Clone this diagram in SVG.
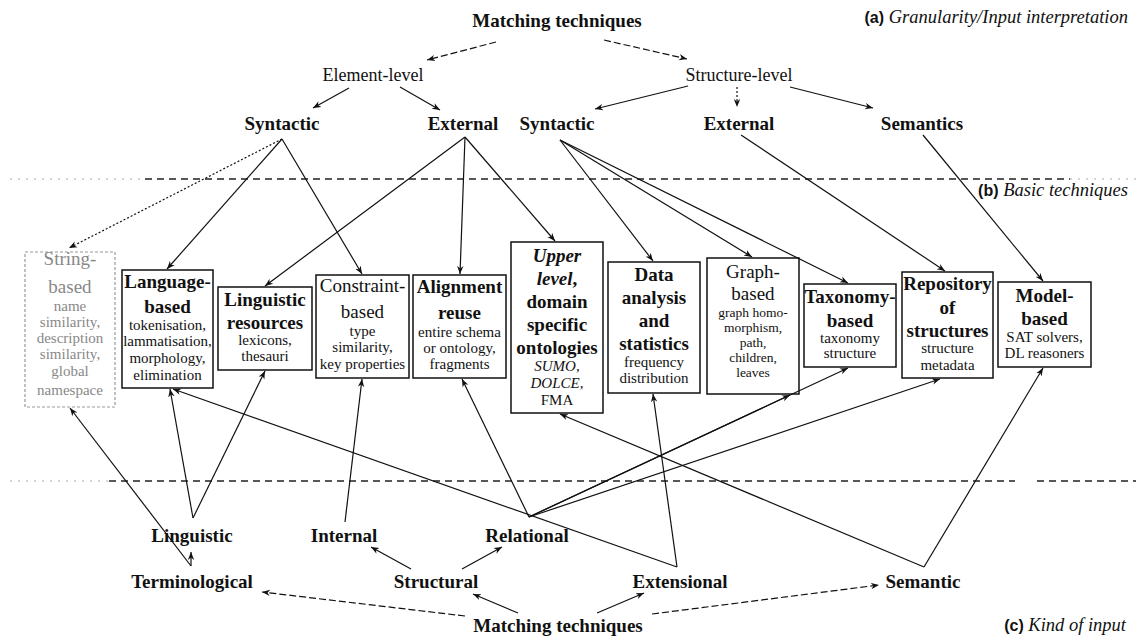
<svg xmlns="http://www.w3.org/2000/svg" width="1138" height="639" viewBox="0 0 1138 639">
  <defs>
    <marker id="ah" viewBox="0 0 10 10" refX="10" refY="5" markerWidth="8" markerHeight="8" markerUnits="userSpaceOnUse" orient="auto">
      <path d="M0,1 L10,5 L0,9 L3,5 z" fill="#111"/>
    </marker>
    <style>
      .lbl { font-family: "Liberation Serif", "Times New Roman", serif; font-weight: bold; font-size: 19px; fill: #111; text-anchor: middle; }
      .lvl { font-family: "Liberation Serif", "Times New Roman", serif; font-size: 18px; fill: #111; text-anchor: middle; }
      .cap { font-family: "Liberation Serif", "Times New Roman", serif; font-style: italic; font-size: 18.5px; fill: #111; }
      .tag { font-family: "Liberation Sans", Arial, sans-serif; font-weight: bold; font-style: normal; font-size: 16px; }
      .box { fill: #fff; stroke: #111; stroke-width: 1.5; }
      .faint { fill: #fff; stroke: #999; stroke-width: 1.2; stroke-dasharray: 3 2; }
      .t { font-family: "Liberation Serif", "Times New Roman", serif; font-weight: bold; font-size: 19px; fill: #111; text-anchor: middle; }
      .tn { font-family: "Liberation Serif", "Times New Roman", serif; font-size: 19px; fill: #111; text-anchor: middle; }
      .d { font-family: "Liberation Serif", "Times New Roman", serif; font-size: 15px; fill: #111; text-anchor: middle; }
      .ds { font-family: "Liberation Serif", "Times New Roman", serif; font-size: 13.5px; fill: #111; text-anchor: middle; }
      .g { fill: #888; }
      .ln { stroke: #111; stroke-width: 1.2; fill: none; marker-end: url(#ah); }
      .dash { stroke-dasharray: 7 3; }
      .dot { stroke-dasharray: 2 2; }
      .sep { stroke: #222; stroke-width: 1.6; stroke-dasharray: 7 5; fill: none; }
      .sepf { stroke: #aaa; stroke-width: 1.2; stroke-dasharray: 2 6; fill: none; }
    </style>
  </defs>

  <rect width="1138" height="639" fill="#fff"/>

  <!-- layer separators -->
  <g id="separators">
    <line class="sepf" x1="10" y1="179" x2="145" y2="179"/>
    <line class="sep" x1="145" y1="179" x2="1070" y2="179"/>
    <line class="sepf" x1="1070" y1="179" x2="1136" y2="179"/>
    <line class="sepf" x1="10" y1="481" x2="109" y2="481"/>
    <line class="sep" x1="109" y1="481" x2="1015" y2="481"/>
    <line class="sep" x1="1037" y1="481" x2="1136" y2="481"/>
  </g>

  <!-- layer captions -->
  <g id="captions">
    <text class="cap" x="1128" y="23" text-anchor="end"><tspan class="tag">(a)</tspan> Granularity/Input interpretation</text>
    <text class="cap" x="1128" y="196" text-anchor="end"><tspan class="tag">(b)</tspan> Basic techniques</text>
    <text class="cap" x="1126" y="631" text-anchor="end"><tspan class="tag">(c)</tspan> Kind of input</text>
  </g>

  <!-- upper classification tree -->
  <g id="top-root"><text class="lbl" x="557" y="27">Matching techniques</text></g>
  <g id="element-level"><text class="lvl" x="373" y="81">Element-level</text></g>
  <g id="structure-level"><text class="lvl" x="739" y="81">Structure-level</text></g>
  <g id="el-syntactic"><text class="lbl" x="282" y="130">Syntactic</text></g>
  <g id="el-external"><text class="lbl" x="463" y="130">External</text></g>
  <g id="st-syntactic"><text class="lbl" x="557" y="130">Syntactic</text></g>
  <g id="st-external"><text class="lbl" x="739" y="130">External</text></g>
  <g id="st-semantics"><text class="lbl" x="922" y="130">Semantics</text></g>

  <!-- basic techniques -->
  <g id="string-based">
    <rect class="faint" x="25" y="252" width="90" height="155"/>
    <text class="tn g" x="70" y="265">String-</text>
    <text class="tn g" x="70" y="293">based</text>
    <text class="d g" x="70" y="311">name</text>
    <text class="d g" x="70" y="327">similarity,</text>
    <text class="d g" x="70" y="343">description</text>
    <text class="d g" x="70" y="359">similarity,</text>
    <text class="d g" x="70" y="376">global</text>
    <text class="d g" x="70" y="395">namespace</text>
  </g>
  <g id="language-based">
    <rect class="box" x="122" y="270" width="91" height="118"/>
    <text class="t" x="167.5" y="288">Language-</text>
    <text class="t" x="167.5" y="313">based</text>
    <text class="d" x="167.5" y="330">tokenisation,</text>
    <text class="d" x="167.5" y="346">lammatisation,</text>
    <text class="d" x="167.5" y="363">morphology,</text>
    <text class="d" x="167.5" y="380">elimination</text>
  </g>
  <g id="linguistic-resources">
    <rect class="box" x="218" y="287" width="94" height="83"/>
    <text class="t" x="265" y="306">Linguistic</text>
    <text class="t" x="265" y="329">resources</text>
    <text class="d" x="265" y="345">lexicons,</text>
    <text class="d" x="265" y="361">thesauri</text>
  </g>
  <g id="constraint-based">
    <rect class="box" x="316" y="275" width="93" height="103"/>
    <text class="tn" x="362.5" y="292">Constraint-</text>
    <text class="tn" x="362.5" y="318">based</text>
    <text class="d" x="362.5" y="336">type</text>
    <text class="d" x="362.5" y="352">similarity,</text>
    <text class="d" x="362.5" y="369">key properties</text>
  </g>
  <g id="alignment-reuse">
    <rect class="box" x="413" y="275" width="93" height="103"/>
    <text class="t" x="459.5" y="293">Alignment</text>
    <text class="t" x="459.5" y="319">reuse</text>
    <text class="d" x="459.5" y="337">entire schema</text>
    <text class="d" x="459.5" y="353">or ontology,</text>
    <text class="d" x="459.5" y="369">fragments</text>
  </g>
  <g id="upper-level">
    <rect class="box" x="511" y="242" width="92" height="171"/>
    <text class="t" x="557" y="262" font-style="italic">Upper</text>
    <text class="t" x="557" y="285" font-style="italic">level<tspan font-style="normal">,</tspan></text>
    <text class="t" x="557" y="308">domain</text>
    <text class="t" x="557" y="331">specific</text>
    <text class="t" x="557" y="354">ontologies</text>
    <text class="d" x="557" y="371" font-style="italic">SUMO,</text>
    <text class="d" x="557" y="388" font-style="italic">DOLCE,</text>
    <text class="d" x="557" y="405">FMA</text>
  </g>
  <g id="data-analysis">
    <rect class="box" x="608" y="262" width="92" height="131"/>
    <text class="t" x="654" y="281">Data</text>
    <text class="t" x="654" y="304">analysis</text>
    <text class="t" x="654" y="327">and</text>
    <text class="t" x="654" y="350">statistics</text>
    <text class="d" x="654" y="367">frequency</text>
    <text class="d" x="654" y="383">distribution</text>
  </g>
  <g id="graph-based">
    <rect class="box" x="707" y="258" width="92" height="136"/>
    <text class="tn" x="753" y="278">Graph-</text>
    <text class="tn" x="753" y="300">based</text>
    <text class="ds" x="753" y="317">graph homo-</text>
    <text class="ds" x="753" y="332">morphism,</text>
    <text class="ds" x="753" y="347">path,</text>
    <text class="ds" x="753" y="362">children,</text>
    <text class="ds" x="753" y="377">leaves</text>
  </g>
  <g id="taxonomy-based">
    <rect class="box" x="804" y="284" width="92" height="83"/>
    <text class="t" x="850" y="303">Taxonomy-</text>
    <text class="t" x="850" y="327">based</text>
    <text class="d" x="850" y="343">taxonomy</text>
    <text class="d" x="850" y="358">structure</text>
  </g>
  <g id="repository">
    <rect class="box" x="902" y="272" width="91" height="106"/>
    <text class="t" x="947.5" y="290">Repository</text>
    <text class="t" x="947.5" y="314">of</text>
    <text class="t" x="947.5" y="337">structures</text>
    <text class="d" x="947.5" y="353">structure</text>
    <text class="d" x="947.5" y="370">metadata</text>
  </g>
  <g id="model-based">
    <rect class="box" x="998" y="282" width="93" height="85"/>
    <text class="t" x="1044.5" y="302">Model-</text>
    <text class="t" x="1044.5" y="325">based</text>
    <text class="d" x="1044.5" y="342">SAT solvers,</text>
    <text class="d" x="1044.5" y="358">DL reasoners</text>
  </g>

  <!-- lower classification tree -->
  <g id="linguistic"><text class="lbl" x="192" y="542">Linguistic</text></g>
  <g id="internal"><text class="lbl" x="344" y="542">Internal</text></g>
  <g id="relational"><text class="lbl" x="527" y="542">Relational</text></g>
  <g id="terminological"><text class="lbl" x="192" y="588">Terminological</text></g>
  <g id="structural"><text class="lbl" x="436" y="588">Structural</text></g>
  <g id="extensional"><text class="lbl" x="680" y="588">Extensional</text></g>
  <g id="semantic"><text class="lbl" x="923" y="588">Semantic</text></g>
  <g id="bottom-root"><text class="lbl" x="558" y="632">Matching techniques</text></g>

  <!-- connectors -->
  <g id="connectors">
    <!-- upper tree -->
    <line class="ln dash" x1="496" y1="42" x2="427" y2="60"/>
    <line class="ln dash" x1="604" y1="40" x2="687" y2="59"/>
    <line class="ln" x1="349" y1="88" x2="313" y2="108"/>
    <line class="ln" x1="400" y1="87" x2="440" y2="110"/>
    <line class="ln" x1="688" y1="86" x2="595" y2="109"/>
    <line class="ln dot" x1="737" y1="87" x2="737" y2="107"/>
    <line class="ln" x1="790" y1="87" x2="873" y2="108"/>
    <!-- upper tree to basic techniques -->
    <line class="ln dot" x1="282" y1="139" x2="69" y2="248"/>
    <line class="ln" x1="282" y1="139" x2="167" y2="269"/>
    <line class="ln" x1="282" y1="139" x2="362" y2="274"/>
    <line class="ln" x1="465" y1="137" x2="265" y2="286"/>
    <line class="ln" x1="465" y1="137" x2="460" y2="274"/>
    <line class="ln" x1="465" y1="137" x2="555" y2="241"/>
    <line class="ln" x1="560" y1="140" x2="653" y2="261"/>
    <line class="ln" x1="560" y1="140" x2="752" y2="257"/>
    <line class="ln" x1="560" y1="140" x2="848" y2="283"/>
    <line class="ln" x1="741" y1="135" x2="945" y2="271"/>
    <line class="ln" x1="923" y1="135" x2="1043" y2="281"/>
    <!-- lower tree to basic techniques -->
    <line class="ln" x1="191" y1="566" x2="70" y2="408"/>
    <line class="ln" x1="191" y1="566" x2="191" y2="552"/>
    <line class="ln" x1="193" y1="518" x2="170" y2="389"/>
    <line class="ln" x1="193" y1="518" x2="265" y2="371"/>
    <line class="ln" x1="345" y1="522" x2="362" y2="379"/>
    <line class="ln" x1="529" y1="517" x2="462" y2="379"/>
    <line class="ln" x1="529" y1="517" x2="790" y2="395"/>
    <line class="ln" x1="529" y1="517" x2="848" y2="368"/>
    <line class="ln" x1="529" y1="517" x2="940" y2="379"/>
    <line class="ln" x1="677" y1="567" x2="173" y2="389"/>
    <line class="ln" x1="677" y1="567" x2="653" y2="394"/>
    <line class="ln" x1="924" y1="567" x2="560" y2="414"/>
    <line class="ln" x1="924" y1="567" x2="1043" y2="368"/>
    <!-- lower tree -->
    <line class="ln" x1="411" y1="569" x2="371" y2="547"/>
    <line class="ln" x1="462" y1="569" x2="502" y2="547"/>
    <line class="ln dash" x1="465" y1="616" x2="262" y2="592"/>
    <line class="ln" x1="518" y1="613" x2="473" y2="594"/>
    <line class="ln" x1="597" y1="613" x2="644" y2="593"/>
    <line class="ln dash" x1="652" y1="614" x2="879" y2="585"/>
  </g>
</svg>
